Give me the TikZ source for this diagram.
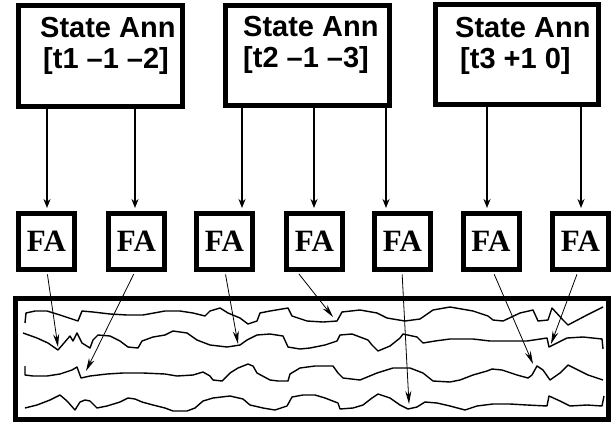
\documentclass[tikz,border=0pt]{standalone}
\usepackage{fontspec}
\setmainfont{Liberation Sans}
\newfontfamily\serifb{Liberation Serif}
\usetikzlibrary{arrows.meta}
\begin{document}
\begin{tikzpicture}[x=1pt,y=-1pt,
  annbox/.style={draw, line width=5pt, inner sep=0pt},
  anntext/.style={anchor=base west, inner sep=0pt, font=\bfseries\fontsize{29}{31}\selectfont},
  fabox/.style={draw, line width=5pt, minimum width=56pt, minimum height=56pt, inner sep=0pt,
    font=\serifb\bfseries\fontsize{31}{31}\selectfont},
  downarrow/.style={-{Stealth[length=9pt,width=7pt]}, line width=1.5pt},
  feed/.style={-{Stealth[length=13pt,width=6pt]}, line width=0.8pt},
  wave/.style={line width=1.4pt, line join=round},
  frame/.style={draw, line width=5pt}]
\useasboundingbox (0,0) rectangle (615,423);

% top annotation boxes
\node[annbox, minimum width=164.2pt, minimum height=101.7pt] (tb1) at (100.4,55.9) {};
\node[annbox, minimum width=163.9pt, minimum height=100pt] (tb2) at (307.8,55.8) {};
\node[annbox, minimum width=163pt, minimum height=100.3pt] (tb3) at (516.5,54.4) {};
\node[anntext] (l1a) at (40,37) {State Ann};
\node[anntext] (l1b) at (43,68) {[t1 –1 –2]};
\node[anntext] (l2a) at (243,36) {State Ann};
\node[anntext] (l2b) at (243,67) {[t2 –1 –3]};
\node[anntext] (l3a) at (455,37) {State Ann};
\node[anntext] (l3b) at (460,68) {[t3 +1 0]};

% FA boxes
\node[fabox] (fa1) at (46.5,241) {FA};
\node[fabox] (fa2) at (136.5,241) {FA};
\node[fabox] (fa3) at (224.5,241) {FA};
\node[fabox] (fa4) at (314.5,241) {FA};
\node[fabox] (fa5) at (402.5,241) {FA};
\node[fabox] (fa6) at (491,241) {FA};
\node[fabox] (fa7) at (580.5,241) {FA};

% vertical arrows
\foreach \t/\f/\x [count=\i] in {tb1/fa1/47, tb1/fa2/135, tb2/fa3/242, tb2/fa4/314, tb2/fa5/386, tb3/fa6/487, tb3/fa7/581} {
  \coordinate (v\i) at (\x,0);
  \draw[downarrow, shorten >=2.5pt] (\t.south -| v\i) -- (\f.north -| v\i);
}

% bottom frame
\node[frame, minimum width=593pt, minimum height=121pt, inner sep=0pt] (mem) at (312,359) {};

% wavy lines
\draw[wave] (25,323) -- (26,313) -- (35,311) -- (47,311) -- (60,315) -- (78,321) -- (82,311) -- (93,312) -- (110,314) -- (127,315) -- (143,315) -- (165,311) -- (180,311) -- (193,313) -- (205,316) -- (210,311) -- (220,308) -- (228,313) -- (240,318) -- (248,324) -- (257,321) -- (260,313) -- (270,311) -- (288,308) -- (292,316) -- (307,321) -- (323,322) -- (337,321) -- (342,312) -- (360,310) -- (377,313) -- (387,318) -- (405,321) -- (420,319) -- (433,310) -- (450,307) -- (473,311) -- (488,316) -- (493,320) -- (503,321) -- (520,313) -- (533,310) -- (538,321) -- (548,320) -- (552,308) -- (563,320) -- (568,325) -- (587,315) -- (603,307);
\draw[wave] (23,333) -- (37,338) -- (48,343) -- (58,350) -- (70,336) -- (73,341) -- (77,333) -- (82,343) -- (90,348) -- (93,340) -- (98,335) -- (110,336) -- (120,341) -- (128,347) -- (138,348) -- (142,341) -- (153,337) -- (165,335) -- (173,331) -- (187,333) -- (197,340) -- (210,345) -- (227,347) -- (240,345) -- (247,340) -- (257,335) -- (270,334) -- (283,336) -- (288,347) -- (300,349) -- (310,348) -- (325,345) -- (337,341) -- (340,335) -- (352,334) -- (368,340) -- (372,345) -- (378,351) -- (390,346) -- (400,338) -- (403,334) -- (417,337) -- (423,343) -- (435,341) -- (450,339) -- (473,339) -- (490,341) -- (510,341) -- (527,341) -- (547,338) -- (549,347) -- (553,345) -- (567,338) -- (583,337) -- (602,339) -- (603,349);
\draw[wave] (25,366) -- (25,375) -- (33,376) -- (47,376) -- (60,374) -- (72,370) -- (77,367) -- (81,378) -- (90,376) -- (107,374) -- (123,373) -- (143,373) -- (165,374) -- (177,376) -- (193,375) -- (203,372) -- (210,376) -- (213,380) -- (222,381) -- (230,373) -- (238,368) -- (248,364) -- (253,366) -- (257,373) -- (270,380) -- (278,381) -- (288,381) -- (290,374) -- (300,368) -- (315,366) -- (323,366) -- (333,366) -- (338,373) -- (343,378) -- (360,380) -- (377,373) -- (393,368) -- (410,368) -- (423,373) -- (433,381) -- (450,382) -- (460,380) -- (473,375) -- (487,371) -- (492,369) -- (502,370) -- (517,375) -- (528,378) -- (532,375) -- (537,366) -- (543,370) -- (550,380) -- (560,373) -- (568,365) -- (578,370) -- (588,375) -- (603,380);
\draw[wave] (25,408) -- (37,405) -- (50,400) -- (60,395) -- (67,401) -- (75,410) -- (80,402) -- (85,400) -- (90,401) -- (97,408) -- (107,406) -- (120,402) -- (128,398) -- (135,399) -- (142,402) -- (153,405) -- (165,408) -- (173,411) -- (187,411) -- (195,408) -- (203,401) -- (213,398) -- (230,396) -- (243,399) -- (250,405) -- (263,408) -- (275,410) -- (287,406) -- (292,397) -- (303,395) -- (315,395) -- (325,398) -- (338,403) -- (340,409) -- (353,408) -- (363,405) -- (372,398) -- (378,394) -- (390,398) -- (400,405) -- (408,409) -- (417,407) -- (425,402) -- (437,403) -- (450,406) -- (465,410) -- (477,406) -- (493,404) -- (510,404) -- (527,405) -- (547,406) -- (549,396) -- (560,401) -- (570,406) -- (587,405) -- (602,406) -- (604,396);

% feed arrows from FA boxes into the lines
\coordinate (t1) at (58,347);
\coordinate (t2) at (86,371);
\coordinate (t3) at (238,344);
\coordinate (t4) at (333,317);
\coordinate (t5) at (409,404);
\coordinate (t6) at (533,364);
\coordinate (t7) at (551,344);
\foreach \f/\x [count=\i] in {fa1/47, fa2/135, fa3/225, fa4/297, fa5/402, fa6/493, fa7/578} {
  \coordinate (s\i) at (\x,0);
  \draw[feed, shorten <=3pt] (\f.south -| s\i) -- (t\i);
}
\end{tikzpicture}
\end{document}
